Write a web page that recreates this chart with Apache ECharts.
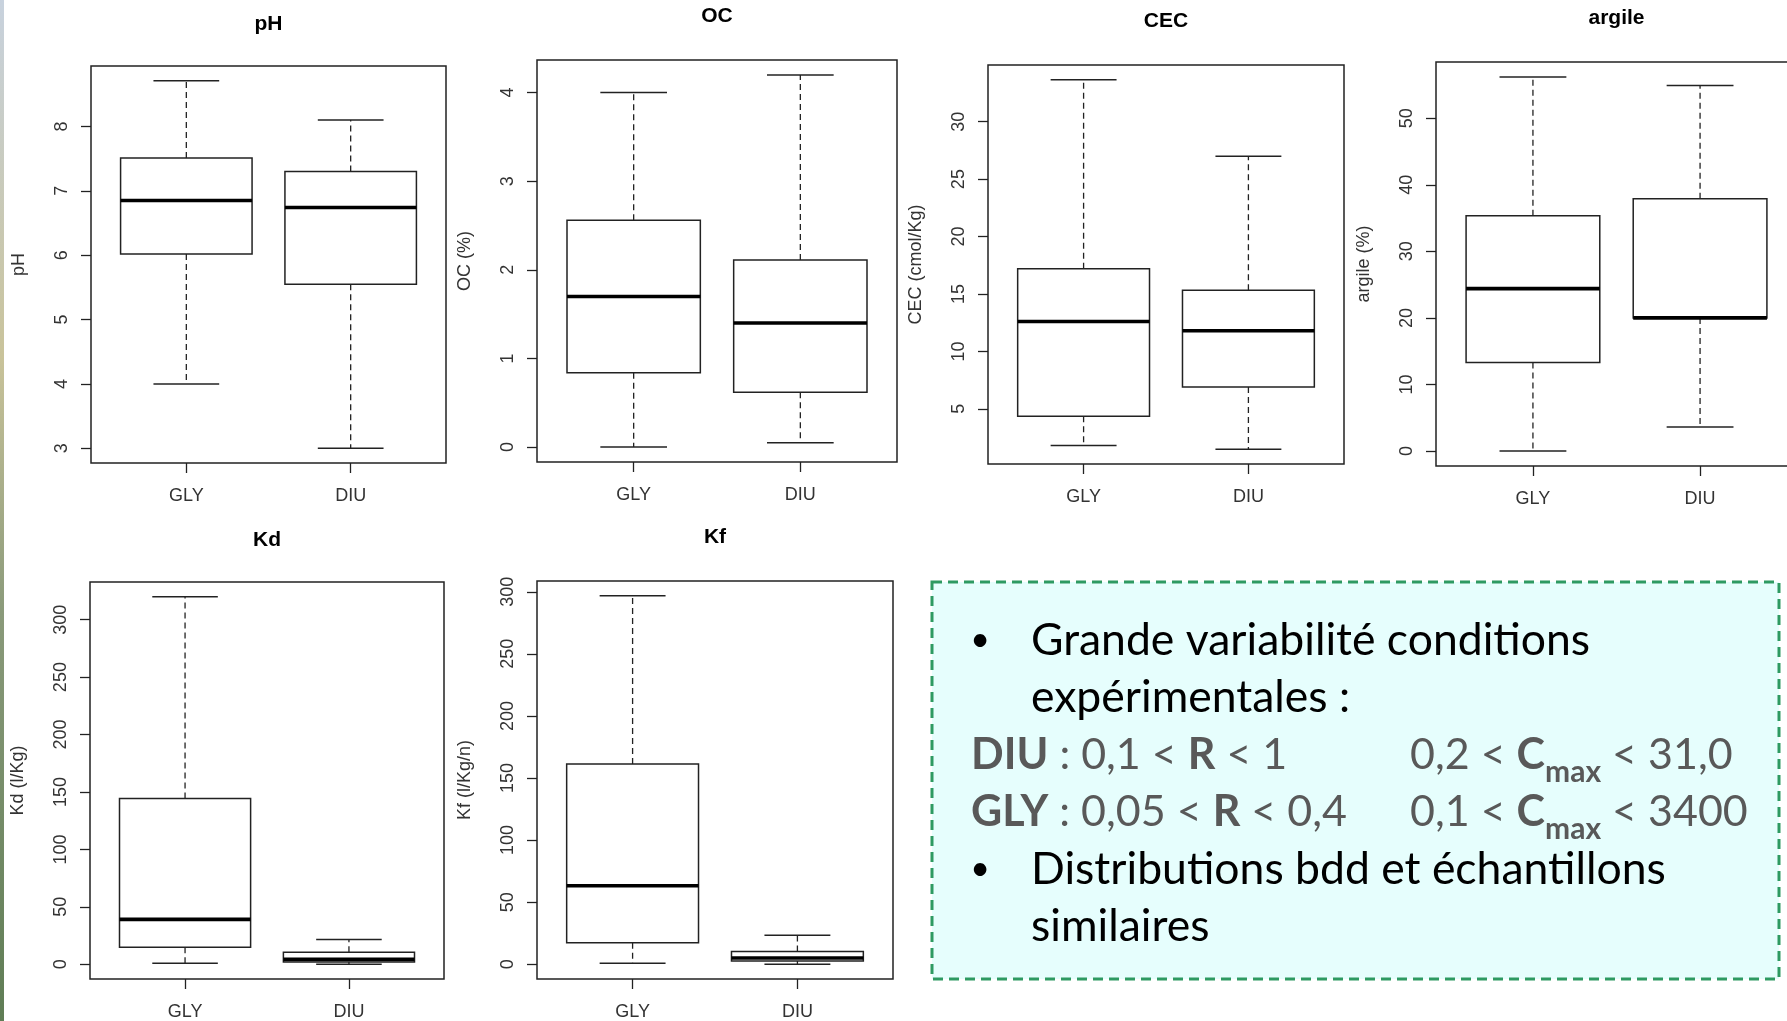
<!DOCTYPE html>
<html><head><meta charset="utf-8">
<script src="https://cdn.jsdelivr.net/npm/echarts@6/dist/echarts.min.js"></script>
<style>html,body{margin:0;padding:0;background:#fff}#c{width:1787px;height:1021px}</style>
</head><body><div id="c"></div>
<script>
// ---- data ----
const groups = ['GLY', 'DIU'];
// each array: [lower whisker, Q1, median, Q3, upper whisker]
const phGLY  = [4.0, 6.02, 6.85, 7.51, 8.71];
const phDIU  = [3.0, 5.55, 6.74, 7.30, 8.10];
const ocGLY  = [0.0, 0.84, 1.70, 2.56, 4.00];
const ocDIU  = [0.05, 0.62, 1.40, 2.11, 4.20];
const cecGLY = [1.80, 4.35, 12.6, 17.2, 33.65];
const cecDIU = [1.48, 6.90, 11.8, 15.33, 27.0];
const argGLY = [0.0, 13.3, 24.4, 35.35, 56.2];
const argDIU = [3.6, 20.0, 20.0, 37.9, 54.9];
const kdGLY  = [1.0, 14.8, 39.1, 144.3, 320.0];
const kdDIU  = [0.0, 2.1, 4.3, 10.4, 21.5];
const kfGLY  = [0.8, 17.3, 63.2, 161.3, 296.8];
const kfDIU  = [0.0, 2.7, 5.1, 10.2, 23.4];
const phTicks  = [3, 4, 5, 6, 7, 8];
const ocTicks  = [0, 1, 2, 3, 4];
const cecTicks = [5, 10, 15, 20, 25, 30];
const argTicks = [0, 10, 20, 30, 40, 50];
const kdTicks  = [0, 50, 100, 150, 200, 250, 300];
const kfTicks  = [0, 50, 100, 150, 200, 250, 300];
const titles = ['pH', 'OC', 'CEC', 'argile', 'Kd', 'Kf'];
const yNames = ['pH', 'OC (%)', 'CEC (cmol/Kg)', 'argile (%)', 'Kd (l/Kg)', 'Kf (l/Kg/n)'];

// ---- layout ----
const panels = [
  {gly: phGLY,  diu: phDIU,  ticks: phTicks,  grid: {left: 91,  top: 66,  width: 355, height: 397}, titleY: 24},
  {gly: ocGLY,  diu: ocDIU,  ticks: ocTicks,  grid: {left: 537, top: 60,  width: 360, height: 402}, titleY: 16},
  {gly: cecGLY, diu: cecDIU, ticks: cecTicks, grid: {left: 988, top: 65,  width: 356, height: 399}, titleY: 21},
  {gly: argGLY, diu: argDIU, ticks: argTicks, grid: {left: 1436, top: 62, width: 361, height: 404}, titleY: 18},
  {gly: kdGLY,  diu: kdDIU,  ticks: kdTicks,  grid: {left: 90,  top: 582, width: 354, height: 397}, titleY: 540},
  {gly: kfGLY,  diu: kfDIU,  ticks: kfTicks,  grid: {left: 537, top: 581, width: 356, height: 398}, titleY: 537}
];

const RFONT = '"Liberation Sans", Arial, sans-serif';
const LBL = '#333';

function renderBox(params, api) {
  const x = api.value(0);
  const lo = api.value(1), q1 = api.value(2), med = api.value(3), q3 = api.value(4), hi = api.value(5);
  const w = api.size([0.8, 0])[0];
  const cw = api.size([0.4, 0])[0];
  const pLo = api.coord([x, lo]), pQ1 = api.coord([x, q1]), pMed = api.coord([x, med]),
        pQ3 = api.coord([x, q3]), pHi = api.coord([x, hi]);
  const cx = pLo[0];
  const dash = {stroke: '#222', lineWidth: 1.3, lineDash: [6, 4], fill: null};
  const solid = {stroke: '#222', lineWidth: 1.5, fill: null};
  return {type: 'group', children: [
    {type: 'line', shape: {x1: cx, y1: pQ3[1], x2: cx, y2: pHi[1]}, style: dash},
    {type: 'line', shape: {x1: cx, y1: pQ1[1], x2: cx, y2: pLo[1]}, style: dash},
    {type: 'line', shape: {x1: cx - cw / 2, y1: pHi[1], x2: cx + cw / 2, y2: pHi[1]}, style: solid},
    {type: 'line', shape: {x1: cx - cw / 2, y1: pLo[1], x2: cx + cw / 2, y2: pLo[1]}, style: solid},
    {type: 'rect', shape: {x: cx - w / 2, y: pQ3[1], width: w, height: pQ1[1] - pQ3[1]},
      style: {fill: '#fff', stroke: '#222', lineWidth: 1.5}},
    {type: 'line', shape: {x1: cx - w / 2, y1: pMed[1], x2: cx + w / 2, y2: pMed[1]},
      style: {stroke: '#000', lineWidth: 3.6, fill: null}}
  ]};
}

const grids = [], xAxes = [], yAxes = [], series = [], graphics = [];
panels.forEach((p, i) => {
  grids.push(Object.assign({show: true, borderColor: '#222', borderWidth: 1.5, backgroundColor: 'transparent',
    containLabel: false, outerBoundsMode: 'none'}, p.grid));
  xAxes.push({
    type: 'value', gridIndex: i, min: 0.42, max: 2.58, position: 'bottom',
    axisLine: {show: false, onZero: false}, splitLine: {show: false},
    axisTick: {show: true, inside: false, length: 10, customValues: [1, 2], lineStyle: {color: '#222', width: 1.3}},
    axisLabel: {show: true, customValues: [1, 2], margin: 24, color: LBL, fontSize: 18, fontFamily: RFONT,
      formatter: v => groups[Math.round(v) - 1] || ''}
  });
  const lo = Math.min(p.gly[0], p.diu[0]);
  const hi = Math.max(p.gly[4], p.diu[4]);
  const pad = (hi - lo) * 0.04;
  yAxes.push({
    type: 'value', gridIndex: i, min: lo - pad, max: hi + pad, position: 'left',
    name: yNames[i], nameLocation: 'middle', nameGap: 63,
    nameTextStyle: {color: LBL, fontSize: 18, fontFamily: RFONT},
    axisLine: {show: false, onZero: false}, splitLine: {show: false},
    axisTick: {show: true, inside: false, length: 10, customValues: p.ticks, lineStyle: {color: '#222', width: 1.3}},
    axisLabel: {show: true, customValues: p.ticks, rotate: 90, margin: 20, color: LBL, fontSize: 18, fontFamily: RFONT}
  });
  series.push({
    type: 'custom', xAxisIndex: i, yAxisIndex: i, renderItem: renderBox, silent: true,
    encode: {x: 0, y: [1, 2, 3, 4, 5]},
    data: [[1].concat(p.gly), [2].concat(p.diu)]
  });
  graphics.push({
    type: 'text', x: p.grid.left + p.grid.width / 2, y: p.titleY,
    style: {text: titles[i], fontSize: 21, fontWeight: 'bold', fontFamily: RFONT, fill: '#000',
      textAlign: 'center', textVerticalAlign: 'middle'}
  });
});

// left decorative strip of the slide background
graphics.push({
  type: 'rect', shape: {x: 0, y: 0, width: 4, height: 1021},
  style: {fill: new echarts.graphic.LinearGradient(0, 0, 0, 1, [
    {offset: 0, color: '#c8d2de'}, {offset: 0.35, color: '#c9c39a'}, {offset: 0.6, color: '#8a9a7a'}, {offset: 1, color: '#5f7d55'}])}
});

// text box
const TF = 'Lato, "Open Sans", sans-serif';
const GRAY = '#595959';
const richStyles = {
  b: {fontSize: 43, fontWeight: 'bold', fontFamily: TF, color: GRAY, lineHeight: 64},
  n: {fontSize: 43, fontFamily: TF, color: GRAY, lineHeight: 64},
  s: {fontSize: 30, fontWeight: 'bold', fontFamily: TF, color: GRAY, lineHeight: 30, verticalAlign: 'bottom'}
};
graphics.push({
  type: 'rect', shape: {x: 932, y: 582, width: 847, height: 397},
  style: {fill: '#e6fefd', stroke: '#2e9a62', lineWidth: 3, lineDash: [10, 6]}
});
const plainLines = [
  {t: '•', x: 980, y: 640, align: 'center', size: 34},
  {t: 'Grande variabilité conditions', x: 1031, y: 641},
  {t: 'expérimentales :', x: 1031, y: 698},
  {t: '•', x: 980, y: 869, align: 'center', size: 34},
  {t: 'Distributions bdd et échantillons', x: 1031, y: 870},
  {t: 'similaires', x: 1031, y: 927}
];
plainLines.forEach(l => graphics.push({
  type: 'text', x: l.x, y: l.y,
  style: {text: l.t, fontSize: l.size || 44.5, fontFamily: TF, fill: '#000', textAlign: l.align || 'left', textVerticalAlign: 'middle'}
}));
const richLines = [
  {t: '{b|DIU}{n| : 0,1 < }{b|R}{n| < 1}', x: 971, y: 755},
  {t: '{n|0,2 < }{b|C}{s|max}{n| < 31,0}', x: 1410, y: 755},
  {t: '{b|GLY}{n| : 0,05 < }{b|R}{n| < 0,4}', x: 971, y: 812},
  {t: '{n|0,1 < }{b|C}{s|max}{n| < 3400}', x: 1410, y: 812}
];
richLines.forEach(l => graphics.push({
  type: 'text', x: l.x, y: l.y,
  style: {text: l.t, rich: richStyles, fontSize: 43, fontFamily: TF, fill: GRAY, textAlign: 'left', textVerticalAlign: 'middle'}
}));

const chart = echarts.init(document.getElementById('c'), null, {renderer: 'canvas'});
chart.setOption({
  backgroundColor: '#fff',
  animation: false,
  grid: grids, xAxis: xAxes, yAxis: yAxes, series: series,
  graphic: graphics
});
</script>
</body></html>
